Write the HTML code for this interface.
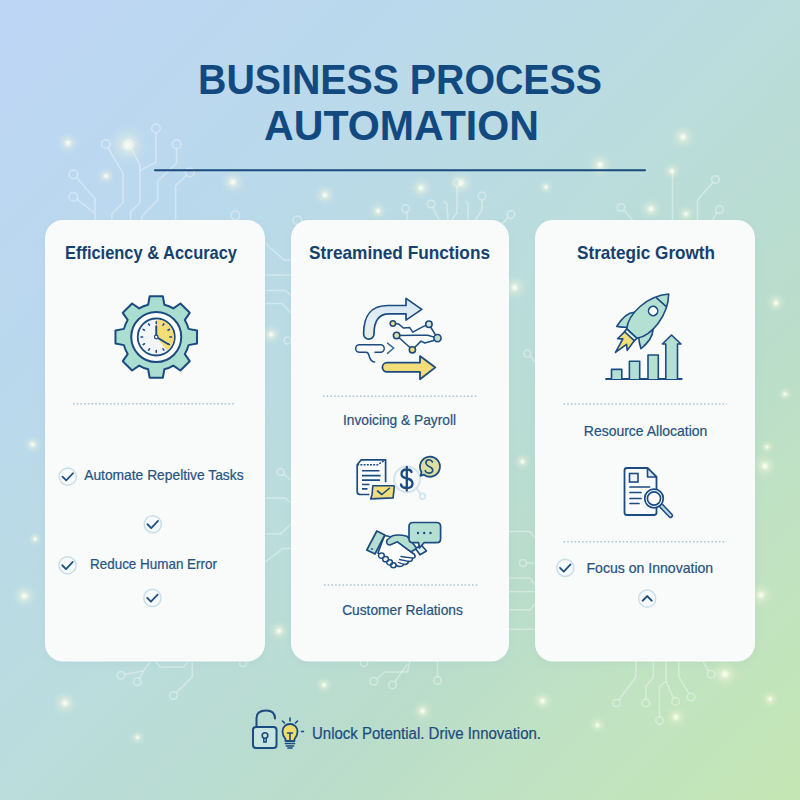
<!DOCTYPE html>
<html><head><meta charset="utf-8"><title>Business Process Automation</title>
<style>html,body{margin:0;padding:0;width:800px;height:800px;overflow:hidden;background:#bddaea;}
svg{display:block;font-family:"Liberation Sans",sans-serif;}</style></head>
<body>
<svg width="800" height="800" viewBox="0 0 800 800" font-family="Liberation Sans, sans-serif"><defs>
<linearGradient id="bg" x1="0" y1="0" x2="800" y2="800" gradientUnits="userSpaceOnUse">
<stop offset="0" stop-color="#bed6f6"/>
<stop offset="0.26" stop-color="#bad9ec"/>
<stop offset="0.5" stop-color="#bbdddc"/>
<stop offset="0.68" stop-color="#b9dccc"/>
<stop offset="0.8" stop-color="#c0e2c4"/>
<stop offset="1" stop-color="#c4e6b4"/>
</linearGradient>
<radialGradient id="glow">
<stop offset="0" stop-color="#fffff8" stop-opacity="0.95"/>
<stop offset="0.12" stop-color="#fffff0" stop-opacity="0.8"/>
<stop offset="0.35" stop-color="#fbfbe0" stop-opacity="0.35"/>
<stop offset="0.7" stop-color="#f6f6d8" stop-opacity="0.1"/>
<stop offset="1" stop-color="#f6f6d0" stop-opacity="0"/>
</radialGradient>
<linearGradient id="tube" x1="0" y1="0" x2="0" y2="1">
<stop offset="0" stop-color="#d5e6f3"/>
<stop offset="0.6" stop-color="#e4eef4"/>
<stop offset="1" stop-color="#e6eedb"/>
</linearGradient>
<filter id="blur1" x="-5%" y="-5%" width="110%" height="110%"><feGaussianBlur stdDeviation="0.45"/></filter>
<filter id="sh" x="-10%" y="-10%" width="120%" height="120%"><feGaussianBlur stdDeviation="4"/></filter>
</defs>
<rect width="800" height="800" fill="url(#bg)"/>
<g stroke="#ffffff" stroke-opacity="0.36" stroke-width="1.5" fill="none" filter="url(#blur1)"><circle cx="73.4" cy="174.4" r="4.3"/><polyline points="76.5,177.5 95.0,198.8 95.0,222.0"/><circle cx="73.4" cy="196.9" r="4.3"/><polyline points="77.0,199.5 95.0,213.0"/><circle cx="105.7" cy="144.0" r="4.3"/><polyline points="108.2,148.0 123.1,173.4 123.1,202.5 111.9,213.8 111.9,222.0"/><circle cx="128.8" cy="144.4" r="4.3"/><polyline points="131.2,148.5 140.0,165.0 140.0,202.5 130.6,211.9 130.6,222.0"/><circle cx="155.9" cy="128.4" r="4.3"/><polyline points="155.9,132.8 155.9,162.2 140.0,170.6"/><circle cx="176.6" cy="144.4" r="4.3"/><polyline points="176.6,148.8 176.6,163.0 157.8,181.0 157.8,199.7 141.9,216.6 141.9,222.0"/><circle cx="189.7" cy="172.5" r="4.3"/><polyline points="186.5,175.5 175.6,185.6 175.6,222.0"/><circle cx="235.4" cy="215.4" r="4.3"/><circle cx="297.3" cy="220.2" r="4.3"/><circle cx="405.6" cy="208.6" r="3.8"/><polyline points="406.5,212.5 408.0,222.0"/><circle cx="431.0" cy="204.0" r="3.8"/><polyline points="433.0,207.5 440.0,222.0"/><polyline points="444.0,201.0 447.0,204.0 448.0,222.0"/><circle cx="457.0" cy="182.6" r="3.8"/><polyline points="457.0,186.5 457.0,213.0 450.0,222.0"/><polyline points="466.0,201.0 468.0,203.0 468.0,222.0"/><circle cx="482.0" cy="196.0" r="3.8"/><polyline points="482.0,200.0 482.0,210.0 474.0,222.0"/><circle cx="511.0" cy="214.6" r="3.8"/><polyline points="508.0,217.5 502.0,224.0"/><circle cx="621.0" cy="207.5" r="3.8"/><polyline points="624.0,210.5 632.5,220.0"/><circle cx="715.5" cy="179.5" r="3.8"/><polyline points="712.8,182.5 697.5,200.0 697.5,222.0"/><circle cx="719.5" cy="209.5" r="3.8"/><polyline points="716.8,212.5 712.5,220.0"/><polyline points="672.5,171.0 672.5,222.0"/><polyline points="265.0,243.0 284.0,260.0 291.0,260.0"/><polyline points="265.0,275.0 291.0,275.0"/><polyline points="265.0,290.6 286.0,290.6 291.0,296.0"/><polyline points="265.0,303.6 282.0,303.6 291.0,313.0"/><circle cx="287.5" cy="340.5" r="3.5"/><circle cx="280.6" cy="472.0" r="3.5"/><polyline points="283.5,474.0 291.0,480.0"/><polyline points="265.0,498.0 285.0,498.0 291.0,503.0"/><polyline points="265.0,533.8 281.0,533.8 291.0,524.0"/><polyline points="265.0,562.0 283.0,548.4 291.0,548.4"/><circle cx="527.4" cy="353.6" r="3.5"/><polyline points="530.0,356.0 535.0,362.0"/><polyline points="509.0,531.6 530.0,531.6 535.0,538.0"/><circle cx="523.0" cy="563.0" r="3.5"/><polyline points="526.5,563.0 535.0,563.0"/><polyline points="509.0,578.0 530.0,578.0 535.0,585.0"/><polyline points="509.0,591.6 535.0,591.6"/><polyline points="509.0,609.7 530.0,609.7 535.0,604.0"/><polyline points="509.0,629.2 535.0,629.2"/><circle cx="121.0" cy="675.3" r="3.8"/><polyline points="124.8,674.5 143.5,670.8 151.0,661.0"/><circle cx="137.2" cy="681.7" r="3.8"/><polyline points="139.5,678.5 143.5,670.8"/><circle cx="173.5" cy="695.5" r="3.8"/><polyline points="176.5,692.8 192.3,676.8 192.3,661.0"/><polyline points="155.5,661.0 160.0,667.0 184.0,667.0 188.5,661.0"/><circle cx="243.0" cy="663.0" r="3.5"/><circle cx="364.0" cy="663.0" r="3.5"/><circle cx="373.8" cy="681.3" r="3.8"/><polyline points="377.0,678.5 385.0,672.0 407.5,672.0 410.0,661.0"/><circle cx="392.5" cy="685.0" r="3.8"/><polyline points="394.8,681.8 407.5,664.0"/><circle cx="437.5" cy="680.5" r="3.8"/><polyline points="437.5,676.7 437.5,661.0"/><circle cx="616.6" cy="703.1" r="3.8"/><polyline points="618.8,700.0 635.9,676.9 635.9,661.0"/><circle cx="645.9" cy="703.1" r="3.8"/><polyline points="645.9,699.3 645.9,686.5 653.4,676.9 653.4,661.0"/><circle cx="659.5" cy="720.6" r="3.8"/><polyline points="659.5,716.8 659.5,686.5 666.0,681.3 666.0,661.0"/><circle cx="675.6" cy="701.4" r="3.8"/><polyline points="673.6,698.2 666.0,681.3"/><circle cx="691.0" cy="697.0" r="3.8"/><polyline points="689.0,693.7 678.8,676.9 678.8,661.0"/><circle cx="711.0" cy="674.3" r="3.8"/><polyline points="708.8,671.0 702.4,661.0"/></g>
<circle cx="128.0" cy="145.0" r="20.9" fill="url(#glow)"/>
<circle cx="68.0" cy="143.0" r="11.4" fill="url(#glow)"/>
<circle cx="106.0" cy="176.0" r="9.5" fill="url(#glow)"/>
<circle cx="233.0" cy="182.0" r="13.3" fill="url(#glow)"/>
<circle cx="325.0" cy="195.0" r="11.4" fill="url(#glow)"/>
<circle cx="378.0" cy="211.0" r="9.5" fill="url(#glow)"/>
<circle cx="421.0" cy="188.0" r="11.4" fill="url(#glow)"/>
<circle cx="461.0" cy="183.0" r="13.3" fill="url(#glow)"/>
<circle cx="546.0" cy="187.0" r="7.6" fill="url(#glow)"/>
<circle cx="600.0" cy="165.0" r="13.3" fill="url(#glow)"/>
<circle cx="683.0" cy="137.0" r="13.3" fill="url(#glow)"/>
<circle cx="672.0" cy="171.0" r="9.5" fill="url(#glow)"/>
<circle cx="686.0" cy="214.0" r="9.5" fill="url(#glow)"/>
<circle cx="651.0" cy="209.0" r="11.4" fill="url(#glow)"/>
<circle cx="271.0" cy="334.5" r="11.4" fill="url(#glow)"/>
<circle cx="279.0" cy="631.0" r="11.4" fill="url(#glow)"/>
<circle cx="514.4" cy="287.5" r="13.3" fill="url(#glow)"/>
<circle cx="522.4" cy="461.6" r="9.5" fill="url(#glow)"/>
<circle cx="776.0" cy="303.0" r="11.4" fill="url(#glow)"/>
<circle cx="785.0" cy="394.0" r="7.6" fill="url(#glow)"/>
<circle cx="767.0" cy="447.0" r="7.6" fill="url(#glow)"/>
<circle cx="765.0" cy="466.0" r="13.3" fill="url(#glow)"/>
<circle cx="761.0" cy="595.0" r="13.3" fill="url(#glow)"/>
<circle cx="770.0" cy="699.0" r="9.5" fill="url(#glow)"/>
<circle cx="32.5" cy="444.5" r="9.5" fill="url(#glow)"/>
<circle cx="35.0" cy="539.0" r="7.6" fill="url(#glow)"/>
<circle cx="24.4" cy="596.0" r="13.3" fill="url(#glow)"/>
<circle cx="65.0" cy="703.0" r="13.3" fill="url(#glow)"/>
<circle cx="137.5" cy="737.5" r="7.6" fill="url(#glow)"/>
<circle cx="324.0" cy="685.0" r="9.5" fill="url(#glow)"/>
<circle cx="422.5" cy="711.0" r="11.4" fill="url(#glow)"/>
<circle cx="725.0" cy="674.0" r="15.2" fill="url(#glow)"/>
<circle cx="676.0" cy="717.0" r="11.4" fill="url(#glow)"/>
<circle cx="542.5" cy="701.0" r="11.4" fill="url(#glow)"/>
<circle cx="597.5" cy="725.0" r="9.5" fill="url(#glow)"/>
<rect x="45" y="223" width="220" height="441" rx="18" fill="#7fa8b8" opacity="0.12" filter="url(#sh)"/>
<rect x="45" y="220" width="220" height="441.5" rx="18" fill="#f9fbfb"/>
<rect x="291" y="223" width="218" height="441" rx="18" fill="#7fa8b8" opacity="0.12" filter="url(#sh)"/>
<rect x="291" y="220" width="218" height="441.5" rx="18" fill="#f9fbfb"/>
<rect x="535" y="223" width="220" height="441" rx="18" fill="#7fa8b8" opacity="0.12" filter="url(#sh)"/>
<rect x="535" y="220" width="220" height="441.5" rx="18" fill="#f9fbfb"/>
<text x="198.0" y="94.0" font-size="43.20" font-weight="bold" fill="#12497f" textLength="404.0" lengthAdjust="spacingAndGlyphs">BUSINESS PROCESS</text>
<text x="264.0" y="140.0" font-size="43.20" font-weight="bold" fill="#12497f" textLength="275.0" lengthAdjust="spacingAndGlyphs">AUTOMATION</text>
<line x1="155" y1="170.3" x2="645" y2="170.3" stroke="#1a4a7e" stroke-width="2" stroke-linecap="round"/>
<text x="65.0" y="258.6" font-size="19.00" font-weight="bold" fill="#15416f" textLength="172.0" lengthAdjust="spacingAndGlyphs">Efficiency &amp; Accuracy</text>
<text x="309.0" y="258.6" font-size="19.00" font-weight="bold" fill="#15416f" textLength="181.0" lengthAdjust="spacingAndGlyphs">Streamined Functions</text>
<text x="577.0" y="258.5" font-size="19.00" font-weight="bold" fill="#15416f" textLength="138.0" lengthAdjust="spacingAndGlyphs">Strategic Growth</text>
<text x="84.2" y="480.4" font-size="14.30" font-weight="normal" fill="#26537f" textLength="159.4" lengthAdjust="spacingAndGlyphs" stroke="#26537f" stroke-width="0.22">Automate Repeltive Tasks</text>
<text x="90.0" y="569.3" font-size="14.30" font-weight="normal" fill="#26537f" textLength="127.0" lengthAdjust="spacingAndGlyphs" stroke="#26537f" stroke-width="0.22">Reduce Human Error</text>
<text x="343.0" y="425.0" font-size="14.50" font-weight="normal" fill="#26537f" textLength="113.0" lengthAdjust="spacingAndGlyphs" stroke="#26537f" stroke-width="0.22">Invoicing &amp; Payroll</text>
<text x="342.2" y="615.0" font-size="14.50" font-weight="normal" fill="#26537f" textLength="120.6" lengthAdjust="spacingAndGlyphs" stroke="#26537f" stroke-width="0.22">Customer Relations</text>
<text x="583.8" y="435.5" font-size="14.50" font-weight="normal" fill="#26537f" textLength="123.6" lengthAdjust="spacingAndGlyphs" stroke="#26537f" stroke-width="0.22">Resource Allocation</text>
<text x="586.5" y="572.8" font-size="14.50" font-weight="normal" fill="#26537f" textLength="126.7" lengthAdjust="spacingAndGlyphs" stroke="#26537f" stroke-width="0.22">Focus on Innovation</text>
<text x="312.0" y="738.6" font-size="16.00" font-weight="normal" fill="#1c4c7e" textLength="229.0" lengthAdjust="spacingAndGlyphs" stroke="#1c4c7e" stroke-width="0.22">Unlock Potential. Drive Innovation.</text>
<line x1="73.0" y1="403.7" x2="234.0" y2="403.7" stroke="#aac6d3" stroke-width="1.6" stroke-dasharray="1.6 2.1"/>
<line x1="323.0" y1="396.3" x2="478.0" y2="396.3" stroke="#aac6d3" stroke-width="1.6" stroke-dasharray="1.6 2.1"/>
<line x1="324.0" y1="585.0" x2="477.6" y2="585.0" stroke="#aac6d3" stroke-width="1.6" stroke-dasharray="1.6 2.1"/>
<line x1="563.5" y1="404.0" x2="727.0" y2="404.0" stroke="#aac6d3" stroke-width="1.6" stroke-dasharray="1.6 2.1"/>
<line x1="563.5" y1="541.7" x2="726.6" y2="541.7" stroke="#aac6d3" stroke-width="1.6" stroke-dasharray="1.6 2.1"/>
<circle cx="67.75" cy="476.60" r="8.6" fill="#f6fafc" stroke="#c9dee8" stroke-width="1.5"/>
<path d="M62.50 476.60 l3.75 3.8 l6.75 -7.15" fill="none" stroke="#1f5084" stroke-width="1.8" stroke-linecap="round" stroke-linejoin="round"/>
<circle cx="152.75" cy="524.25" r="8.6" fill="#f6fafc" stroke="#c9dee8" stroke-width="1.5"/>
<path d="M147.50 524.25 l3.75 3.8 l6.75 -7.15" fill="none" stroke="#1f5084" stroke-width="1.8" stroke-linecap="round" stroke-linejoin="round"/>
<circle cx="67.50" cy="565.25" r="8.6" fill="#f6fafc" stroke="#c9dee8" stroke-width="1.5"/>
<path d="M62.25 565.25 l3.75 3.8 l6.75 -7.15" fill="none" stroke="#1f5084" stroke-width="1.8" stroke-linecap="round" stroke-linejoin="round"/>
<circle cx="152.40" cy="597.90" r="8.6" fill="#f6fafc" stroke="#c9dee8" stroke-width="1.5"/>
<path d="M147.15 597.90 l3.75 3.8 l6.75 -7.15" fill="none" stroke="#1f5084" stroke-width="1.8" stroke-linecap="round" stroke-linejoin="round"/>
<circle cx="565.30" cy="567.80" r="8.6" fill="#f6fafc" stroke="#c9dee8" stroke-width="1.5"/>
<path d="M560.05 567.80 l3.75 3.8 l6.75 -7.15" fill="none" stroke="#1f5084" stroke-width="1.8" stroke-linecap="round" stroke-linejoin="round"/>
<circle cx="647.2" cy="598.6" r="8.6" fill="#f6fafc" stroke="#c9dee8" stroke-width="1.5"/>
<path d="M642.7 600.6 l4.5 -4.5 l4.5 4.5" fill="none" stroke="#1b4b80" stroke-width="2" stroke-linecap="round" stroke-linejoin="round"/>
<path d="M164.37 304.70 L162.82 296.23 L149.68 296.23 L148.13 304.70 A33.3 33.3 0 0 0 139.15 308.42 L139.15 308.42 L132.07 303.52 L122.77 312.82 L127.67 319.90 A33.3 33.3 0 0 0 123.95 328.88 L123.95 328.88 L115.48 330.43 L115.48 343.57 L123.95 345.12 A33.3 33.3 0 0 0 127.67 354.10 L127.67 354.10 L122.77 361.18 L132.07 370.48 L139.15 365.58 A33.3 33.3 0 0 0 148.13 369.30 L148.13 369.30 L149.68 377.77 L162.82 377.77 L164.37 369.30 A33.3 33.3 0 0 0 173.35 365.58 L173.35 365.58 L180.43 370.48 L189.73 361.18 L184.83 354.10 A33.3 33.3 0 0 0 188.55 345.12 L188.55 345.12 L197.02 343.57 L197.02 330.43 L188.55 328.88 A33.3 33.3 0 0 0 184.83 319.90 L184.83 319.90 L189.73 312.82 L180.43 303.52 L173.35 308.42 A33.3 33.3 0 0 0 164.37 304.70Z" fill="#a9ded0" stroke="#1b4b80" stroke-width="2" stroke-linejoin="round"/>
<circle cx="156.25" cy="337" r="25" fill="#ffffff" stroke="#1b4b80" stroke-width="2"/>
<circle cx="156.25" cy="337" r="18.5" fill="#f3f6f9" stroke="#1b4b80" stroke-width="1.8"/>
<path d="M156.25 337 L156.25 319.40 A17.6 17.6 0 0 1 167.09 350.87 Z" fill="#f3dd78"/>
<path d="M156.25 321.80 L156.25 323.40 M163.85 323.84 L163.05 325.22 M169.41 329.40 L168.03 330.20 M171.45 337.00 L169.85 337.00 M169.41 344.60 L168.03 343.80 M163.85 350.16 L163.05 348.78 M156.25 352.20 L156.25 350.60 M148.65 350.16 L149.45 348.78 M143.09 344.60 L144.47 343.80 M141.05 337.00 L142.65 337.00 M143.09 329.40 L144.47 330.20 M148.65 323.84 L149.45 325.22" stroke="#1b4b80" stroke-width="1.6" stroke-linecap="round"/>
<path d="M156.25 337 L156.25 326.2 M156.25 337 L167.6 343.8" stroke="#1b4b80" stroke-width="1.9" stroke-linecap="round" fill="none"/>
<circle cx="156.25" cy="337" r="1.8" fill="#ffffff" stroke="#1b4b80" stroke-width="1.2"/>
<path d="M363.6 334 C363.6 318 368.5 305.5 388 305.5 L406 305.5 L406 298.4 L421.75 309.4 L406 320.1 L406 313.8 L389 313.8 C378.5 313.8 374 321 374 334 A5.2 5.2 0 0 1 363.6 334 Z" fill="url(#tube)" stroke="#1b4b80" stroke-width="1.7" stroke-linejoin="round"/>
<path d="M375 352.2 L380.5 352.2 A3.75 3.75 0 0 0 380.5 344.7 L359.4 344.7 A3.75 3.75 0 0 0 359.4 352.2 L366 352.2 Q368.5 352.2 369 355.5 Q370.5 361.9 374.7 361.9" fill="none" stroke="#1b4b80" stroke-width="1.5" stroke-linecap="round"/>
<path d="M387.5 343.1 L393.75 348.1 L387.5 353.4" fill="none" stroke="#3a6894" stroke-width="1.4" stroke-linecap="round"/>
<path d="M392.9 323.5 L398.5 323.9 L403.4 328 L409.75 327.6 L412.75 332.1 L424 326.1 L428.9 324.25 L437.5 338.1 M396.6 335.5 L416.5 335.3 L427.75 335.3 L437.5 338.1 M396.6 335.5 L412.4 349.8 L421 341.1 L424.75 343 L433 340.75 L437.5 338.1" fill="none" stroke="#1b4b80" stroke-width="1.5" stroke-linejoin="round"/>
<circle cx="392.90" cy="323.50" r="2.7" fill="#f2e27a" stroke="#1b4b80" stroke-width="1.6"/>
<circle cx="428.90" cy="324.25" r="3.2" fill="#d6e4d6" stroke="#1b4b80" stroke-width="1.6"/>
<circle cx="396.60" cy="335.50" r="3.2" fill="#e0e1a8" stroke="#1b4b80" stroke-width="1.6"/>
<circle cx="437.50" cy="338.10" r="3.6" fill="#c0dccd" stroke="#1b4b80" stroke-width="1.6"/>
<circle cx="412.40" cy="349.80" r="3.1" fill="#f0e07e" stroke="#1b4b80" stroke-width="1.6"/>
<path d="M387 362.7 L420 362.7 L420 356.1 L435.4 367.4 L420 379.3 L420 371.9 L387 371.9 A4.6 4.6 0 0 1 387 362.7 Z" fill="#f3dd78" stroke="#1b4b80" stroke-width="1.8" stroke-linejoin="round"/>
<path d="M369.4 494.5 L360 494.5 Q357.2 494.5 357.2 491.5 L357.2 464.8 L361.25 459.8 L385.6 459.8 L385.6 482.3" fill="#fbfcfd" stroke="#1b4b80" stroke-width="1.7" stroke-linejoin="round"/>
<path d="M357.2 464.8 L377.5 464.8 L385.6 459.8" fill="none" stroke="#1b4b80" stroke-width="1.5" stroke-dasharray="2 1.2"/>
<path d="M362 470.75 L379.5 470.75 M362 475.6 L380.6 475.6 M362 480.1 L380 480.1 M362 484.5 L369.5 484.5 M362 488.9 L367.5 488.9" stroke="#1b4b80" stroke-width="1.6"/>
<path d="M372.8 485.75 L394.4 485.75 L393.1 497.9 L370.6 498.9 L372 495 Z" fill="#f3dd78" stroke="#1b4b80" stroke-width="1.6" stroke-linejoin="round"/>
<path d="M377.5 491 L381.9 494.5 L389.4 488.25" fill="none" stroke="#1b4b80" stroke-width="1.6" stroke-linecap="round" stroke-linejoin="round"/>
<circle cx="407" cy="479.3" r="12.9" fill="none" stroke="#d2e5ee" stroke-width="2"/>
<path d="M416.5 488.5 L420.5 494" stroke="#d2e5ee" stroke-width="1.8"/>
<circle cx="422.5" cy="496.25" r="2.8" fill="none" stroke="#d2e5ee" stroke-width="1.8"/>
<path d="M411.5 472 Q411 469.5 406.8 469.5 Q401.5 469.5 401.5 474 Q401.5 477.5 406.8 478.5 Q412.5 479.5 412.5 483.5 Q412.5 488 406.8 488 Q401.5 488 401 484.5 M406.8 466.9 L406.8 490.5" fill="none" stroke="#1b4b80" stroke-width="2.3" stroke-linecap="round"/>
<path d="M420.6 475.8 L421.5 472 A10 10 0 1 1 424 474.7 Z" fill="#dcdea2" stroke="#1b4b80" stroke-width="1.8" stroke-linejoin="round"/>
<path d="M432.5 462 Q431 459.5 428.5 459.8 Q425.5 460.5 426 463.5 Q427 466 430 467 Q433.5 468.5 432.5 471.5 Q431 473.5 428 473 Q425.5 472.5 425.3 470.5" fill="none" stroke="#1b4b80" stroke-width="1.6" stroke-linecap="round"/>
<path d="M384.5 535.5 L392 537 L397.5 541.5 L414.5 554.5 Q416.5 558 412.5 558.2 Q412.5 561.8 408.5 561.4 Q408 564.8 404 564.4 Q402 567.5 397.5 566 L378 553 Z" fill="#ffffff" stroke="#1b4b80" stroke-width="1.6" stroke-linejoin="round"/>
<path d="M381.4 555.6 m-2.9 0 a2.9 2.6 0 1 0 5.8 0 a2.9 2.6 0 1 0 -5.8 0 M385.6 559.2 m-2.9 0 a2.9 2.6 0 1 0 5.8 0 a2.9 2.6 0 1 0 -5.8 0 M389.6 562.4 m-2.9 0 a2.9 2.6 0 1 0 5.8 0 a2.9 2.6 0 1 0 -5.8 0 M393.4 565.3 m-2.7 0 a2.7 2.5 0 1 0 5.4 0 a2.7 2.5 0 1 0 -5.4 0" fill="#ffffff" stroke="#1b4b80" stroke-width="1.5"/>
<path d="M401 556.5 L412.5 558.2 M399.5 559.5 L408.5 561.4 M398.5 562.5 L404 564.4" fill="none" stroke="#1b4b80" stroke-width="1.3" stroke-linecap="round"/>
<path d="M407 536.3 Q398 533.8 392 536 L387 540 Q385.5 544.8 390 545 L397.5 541.8 L411 551.8 L417 548.5 Z" fill="#b6ded0" stroke="#1b4b80" stroke-width="1.6" stroke-linejoin="round"/>
<path d="M366.8 550 L376.8 531 L384.8 535 L375 554 Z" fill="#b6ded0" stroke="#1b4b80" stroke-width="1.7" stroke-linejoin="round"/>
<circle cx="372" cy="549" r="0.9" fill="#1b4b80"/>
<path d="M415.5 548.5 L421.5 545.2 L426.5 551 L420 554.8 Z" fill="#e3f1ec" stroke="#1b4b80" stroke-width="1.6" stroke-linejoin="round"/>
<path d="M413 522.5 L436.5 522.5 Q440.6 522.5 440.6 526.5 L440.6 538.7 Q440.6 542.7 436.5 542.7 L424 542.7 L419.5 548 L418.5 542.7 L413 542.7 Q409 542.7 409 538.7 L409 526.5 Q409 522.5 413 522.5 Z" fill="#b3e0d2" stroke="#1b4b80" stroke-width="1.7" stroke-linejoin="round"/>
<circle cx="418.0" cy="533" r="1.2" fill="#1b4b80"/>
<circle cx="424.2" cy="533" r="1.2" fill="#1b4b80"/>
<circle cx="430.5" cy="533" r="1.2" fill="#1b4b80"/>
<g transform="translate(631.85 333.55) rotate(42.7)" stroke="#1b4b80" stroke-width="1.6" stroke-linejoin="round">
<path d="M-6.5 3 L-7 13.5 L-3 10 L0.8 25 L3.4 11.5 L8 15.5 L6.5 3 Z" fill="#f3dd78"/>
<path d="M-12.3 -17.5 Q-19 -12 -16 5 Q-10 1 -7.1 -2 Z" fill="#b4e0d3"/>
<path d="M12.8 -17.5 Q19 -10 17 5 Q11 1.5 7.6 -2 Z" fill="#b4e0d3"/>
<path d="M-7 0 C-16 -12 -14.5 -38 0.3 -54 C14.5 -38 16 -12 7 0 Z" fill="#b4e0d3"/>
<path d="M-7 0 L7 0 L6.6 3.6 L-6.6 3.6 Z" fill="#e3f2ec"/>
<path d="M-6.8 -43 L7 -43.2" fill="none"/>
<circle cx="0.35" cy="-31" r="4.6" fill="#ffffff"/>
</g>
<path d="M606 379 L681.7 379" stroke="#1b4b80" stroke-width="1.8" stroke-linecap="round"/>
<path d="M611.5 379 L611.5 369.4 L621.8 369.4 L621.8 379" fill="#b4e0d3" stroke="#1b4b80" stroke-width="1.6" stroke-linejoin="round"/>
<path d="M629.4 379 L629.4 361.2 L639.7 361.2 L639.7 379" fill="#b4e0d3" stroke="#1b4b80" stroke-width="1.6" stroke-linejoin="round"/>
<path d="M648.0 379 L648.0 355.0 L658.3 355.0 L658.3 379" fill="#b4e0d3" stroke="#1b4b80" stroke-width="1.6" stroke-linejoin="round"/>
<path d="M665.8 379 L665.8 344 L662.4 344 L671.5 335 L681 344 L677.5 344 L677.5 379" fill="#b4e0d3" stroke="#1b4b80" stroke-width="1.6" stroke-linejoin="round"/>
<path d="M647.5 468 L627 468 Q624.5 468 624.5 470.5 L624.5 512.5 Q624.5 515 627 515 L654 515 Q656.5 515 656.5 512.5 L656.5 477 Z" fill="#f9fbfc" stroke="#1b4b80" stroke-width="1.8" stroke-linejoin="round"/>
<path d="M647.5 468 L647.5 477 L656.5 477 Z" fill="#dde9ee" stroke="#1b4b80" stroke-width="1.6" stroke-linejoin="round"/>
<rect x="629.5" y="473.5" width="8.5" height="8.5" fill="#f1f5f8" stroke="#1b4b80" stroke-width="1.6"/>
<path d="M630 487 L649.5 487 M630 492.5 L641 492.5 M630 498.5 L641 498.5 M630 503.5 L639 503.5" stroke="#1b4b80" stroke-width="1.7" stroke-linecap="round"/>
<path d="M661 505.5 L670.5 515.5" stroke="#1b4b80" stroke-width="5.2" stroke-linecap="round"/>
<path d="M661 505.5 L670.5 515.5" stroke="#bcd9e3" stroke-width="2.2" stroke-linecap="round"/>
<circle cx="654" cy="498.5" r="9.3" fill="#ffffff" stroke="#1b4b80" stroke-width="1.7"/>
<circle cx="654" cy="498.5" r="6.6" fill="#ffffff" stroke="#1b4b80" stroke-width="1.7"/>
<path d="M256.5 727 L256.5 718 Q256.5 710.5 266 710.5 Q275 710.5 275 718.5" fill="none" stroke="#1b4b80" stroke-width="2" stroke-linecap="round"/>
<rect x="253" y="727" width="23.5" height="21" rx="3" fill="#c7e6e2" stroke="#1b4b80" stroke-width="2"/>
<circle cx="265" cy="735.5" r="2.8" fill="none" stroke="#1b4b80" stroke-width="1.6"/>
<path d="M263.8 738 L263.8 742 L266.2 742 L266.2 738" fill="none" stroke="#1b4b80" stroke-width="1.5"/>
<path d="M285.5 739 Q282.5 735.5 282.5 731.5 A7.5 7.5 0 0 1 297.5 731.5 Q297.5 735.5 294.5 739 L294.5 741 L285.5 741 Z" fill="#f4dc6c" stroke="#1b4b80" stroke-width="1.8" stroke-linejoin="round"/>
<path d="M287.5 733 L292.5 733 M290 733 L290 740" stroke="#1b4b80" stroke-width="1.6" stroke-linecap="round"/>
<path d="M285.5 743.5 L294.5 743.5 M286.5 746 L293.5 746 M288 748 L292 748" stroke="#1b4b80" stroke-width="1.7" stroke-linecap="round"/>
<path d="M290 718 L290 721 M282.5 721 L284.5 723 M297.5 721 L295.5 723 M301.5 731.5 L303.5 731.5" stroke="#1b4b80" stroke-width="1.6" stroke-linecap="round"/></svg>
</body></html>
